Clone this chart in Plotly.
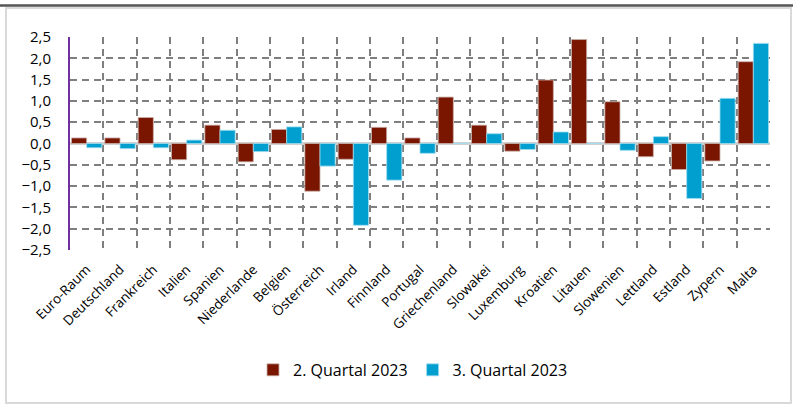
import plotly.graph_objects as go

categories = ["Euro-Raum", "Deutschland", "Frankreich", "Italien", "Spanien", "Niederlande",
              "Belgien", "Österreich", "Irland", "Finnland", "Portugal", "Griechenland",
              "Slowakei", "Luxemburg", "Kroatien", "Litauen", "Slowenien", "Lettland",
              "Estland", "Zypern", "Malta"]
q2 = [0.13, 0.13, 0.61, -0.38, 0.43, -0.43, 0.33, -1.12, -0.37, 0.38, 0.13, 1.09,
      0.43, -0.18, 1.49, 2.44, 0.98, -0.31, -0.61, -0.41, 1.92]
q3 = [-0.10, -0.12, -0.10, 0.08, 0.31, -0.19, 0.39, -0.53, -1.92, -0.86, -0.23, 0.0,
      0.23, -0.14, 0.27, 0.0, -0.16, 0.16, -1.29, 1.06, 2.35]
series_names = ["2. Quartal 2023", "3. Quartal 2023"]
y_ticks = [2.5, 2.0, 1.5, 1.0, 0.5, 0.0, -0.5, -1.0, -1.5, -2.0, -2.5]

FONT = "Open Sans"
fig = go.Figure()
fig.add_trace(go.Bar(x=categories, y=q2, name=series_names[0],
                     marker=dict(color="#7a1500", line=dict(color="#c9b0aa", width=0.8))))
fig.add_trace(go.Bar(x=categories, y=q3, name=series_names[1],
                     marker=dict(color="#009fcf", line=dict(color="#9fdcef", width=0.8))))

fig.update_layout(
    width=793, height=405,
    margin=dict(l=70, r=23, t=37, b=155),
    paper_bgcolor="white", plot_bgcolor="white",
    barmode="group", bargap=0.09, bargroupgap=0,
    separators=",.",
    font=dict(family=FONT, color="black"),
    showlegend=True,
    legend=dict(orientation="h", x=0.49, xanchor="center", y=-0.563, yanchor="middle",
                font=dict(size=16, family=FONT), itemwidth=30, traceorder="normal"),
    xaxis=dict(tickangle=-45, tickson="boundaries", showgrid=True, gridcolor="#7f7f7f",
               griddash="7px,5px", gridwidth=1.5, ticks="", tickfont=dict(size=13.5),
               ticklabelstandoff=8, showline=False, automargin=False),
    yaxis=dict(range=[-2.5, 2.5], tickvals=y_ticks, tickformat=".1f",
               showgrid=True, gridcolor="#7f7f7f", griddash="7px,5px", gridwidth=1.5,
               zeroline=True, zerolinecolor="#d0d0d0", zerolinewidth=2.5,
               showline=True, linecolor="#7030a0", linewidth=2,
               tickfont=dict(size=15), ticks="", ticklabelstandoff=14, automargin=False),
    shapes=[
        dict(type="rect", xref="paper", yref="paper", x0=-0.0914, x1=1.03, y0=-0.718, y1=1.136,
             line=dict(color="#d9d9d9", width=2), layer="above"),
        dict(type="line", xref="paper", yref="paper", x0=-0.1, x1=1.033, y0=1.148, y1=1.148,
             line=dict(color="#555555", width=2.5), layer="above"),
    ],
)

fig.write_html("out.html", config={"displayModeBar": False},
               post_script="document.documentElement.style.margin='0px';"
                           "document.body.style.margin='0px';"
                           "document.body.style.overflow='hidden';")
